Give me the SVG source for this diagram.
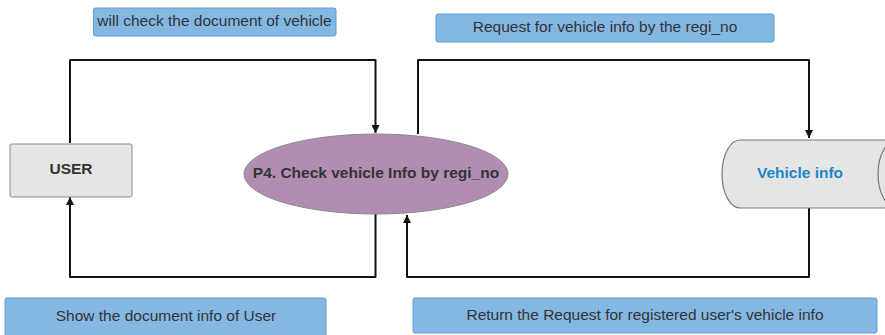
<svg xmlns="http://www.w3.org/2000/svg" width="885" height="335" viewBox="0 0 885 335">
<style>
.lbl{fill:#84b8e3;stroke:#5a9ed6;stroke-width:1}
.lt{font-family:"Liberation Sans",Arial,sans-serif;font-size:15.5px;fill:#333;text-anchor:middle}
.bt{font-family:"Liberation Sans",Arial,sans-serif;font-size:15.5px;font-weight:bold;fill:#333;text-anchor:middle}
.conn{fill:none;stroke:#111;stroke-width:2;stroke-linejoin:round}
</style>
<defs>
<marker id="arr" viewBox="0 0 10 10" refX="10" refY="5" markerWidth="4" markerHeight="4" orient="auto" markerUnits="strokeWidth">
<path d="M0,0 L10,5 L0,10 Z" fill="#111"/>
</marker>
</defs>
<rect width="885" height="335" fill="#fff"/>
<g id="connectors">
<path class="conn" d="M70,143 L70,60 L375.5,60 L375.5,133" marker-end="url(#arr)"/>
<path class="conn" d="M418,134 L418,60 L809,60 L809,138" marker-end="url(#arr)"/>
<path class="conn" d="M809,208 L809,277 L407,277 L407,215" marker-end="url(#arr)"/>
<path class="conn" d="M375.5,214 L375.5,277 L70,277 L70,197" marker-end="url(#arr)"/>
</g>
<g id="label-check">
<rect class="lbl" x="93.5" y="8" width="242.5" height="28" rx="2"/>
<text class="lt" x="214.5" y="25.5">will check the document of vehicle</text>
</g>
<g id="label-request">
<rect class="lbl" x="436" y="14" width="338" height="28" rx="2"/>
<text class="lt" x="605" y="31.5">Request for vehicle info by the regi_no</text>
</g>
<g id="label-show">
<rect class="lbl" x="5" y="298" width="321" height="40" rx="2"/>
<text class="lt" x="166" y="320.5">Show the document info of User</text>
</g>
<g id="label-return">
<rect class="lbl" x="413" y="298" width="464" height="35" rx="2"/>
<text class="lt" x="645" y="320">Return the Request for registered user's vehicle info</text>
</g>
<g id="user">
<rect x="10" y="144" width="122" height="53" rx="2" fill="#e5e5e5" stroke="#8a8a8a" stroke-width="1"/>
<text class="bt" x="71" y="173.5">USER</text>
</g>
<g id="process">
<ellipse cx="376" cy="174" rx="132" ry="40" fill="#b28db2" stroke="#8a8a8a" stroke-width="1"/>
<text class="bt" x="376" y="177.5">P4. Check vehicle Info by regi_no</text>
</g>
<g id="vehicle-info">
<path d="M740,140 L897,140 A19,34 0 0 1 897,208 L740,208 A18,34 0 0 1 740,140 Z" fill="#e5e5e5" stroke="#777" stroke-width="1.2"/>
<path d="M897,140 A19,34 0 0 0 897,208" fill="none" stroke="#777" stroke-width="1.2"/>
<text class="bt" x="800" y="177.5" style="fill:#1b87c9">Vehicle info</text>
</g>
</svg>
